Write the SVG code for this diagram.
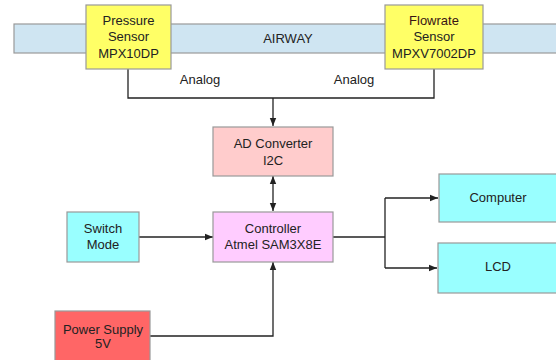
<svg xmlns="http://www.w3.org/2000/svg" width="556" height="360" viewBox="0 0 556 360">
<style>
.box{stroke:#999;stroke-width:1.2}
text{font-family:"Liberation Sans",Arial,sans-serif;font-size:13px;fill:#222;text-anchor:middle}
.ln{fill:none;stroke:#222;stroke-width:1.3}
</style>
<defs>
<marker id="ah" viewBox="0 0 10 10" refX="10" refY="5" markerWidth="8" markerHeight="8" markerUnits="userSpaceOnUse" orient="auto-start-reverse">
<path d="M0,1 L10,5 L0,9 Z" fill="#222"/>
</marker>
</defs>
<rect width="556" height="360" fill="#fff"/>
<g id="airway">
<rect class="box" x="14" y="24" width="548" height="29" fill="#cfe5f2"/>
<text x="288" y="43">AIRWAY</text>
</g>
<g id="connectors">
<path class="ln" d="M128,69 V98 H434 V69"/>
<path class="ln" d="M273,98 V126" marker-end="url(#ah)"/>
<text x="200" y="84">Analog</text>
<text x="354" y="84">Analog</text>
<path class="ln" d="M273,176 V211" marker-start="url(#ah)" marker-end="url(#ah)"/>
<path class="ln" d="M139,237 H213" marker-end="url(#ah)"/>
<path class="ln" d="M333,237 H385"/>
<path class="ln" d="M385,198 V268"/>
<path class="ln" d="M385,198 H438" marker-end="url(#ah)"/>
<path class="ln" d="M385,268 H437" marker-end="url(#ah)"/>
<path class="ln" d="M150,336 H273 V262" marker-end="url(#ah)"/>
</g>
<g id="pressure">
<rect class="box" x="86" y="5" width="85" height="64" fill="#ffff66"/>
<text x="128.5" y="25">Pressure</text>
<text x="128.5" y="41">Sensor</text>
<text x="128.5" y="58">MPX10DP</text>
</g>
<g id="flowrate">
<rect class="box" x="385" y="5" width="98" height="64" fill="#ffff66"/>
<text x="434" y="25" fill="#3a1414" style="fill:#3a1414">Flowrate</text>
<text x="434" y="41">Sensor</text>
<text x="434" y="58">MPXV7002DP</text>
</g>
<g id="adc">
<rect class="box" x="213" y="127" width="120" height="49" fill="#ffcccc"/>
<text x="273" y="148">AD Converter</text>
<text x="273" y="164.5">I2C</text>
</g>
<g id="controller">
<rect class="box" x="213" y="212" width="120" height="50" fill="#ffccff"/>
<text x="273" y="233">Controller</text>
<text x="273" y="249">Atmel SAM3X8E</text>
</g>
<g id="switch">
<rect class="box" x="67" y="212" width="72" height="50" fill="#99ffff"/>
<text x="103" y="233">Switch</text>
<text x="103" y="249">Mode</text>
</g>
<g id="computer">
<rect class="box" x="439" y="174" width="121" height="48" fill="#99ffff"/>
<text x="498" y="202">Computer</text>
</g>
<g id="lcd">
<rect class="box" x="438" y="243" width="122" height="50" fill="#99ffff"/>
<text x="498" y="271">LCD</text>
</g>
<g id="power">
<rect class="box" x="55" y="311" width="95" height="55" fill="#ff6666"/>
<text x="103" y="333.5">Power Supply</text>
<text x="103" y="347.5">5V</text>
</g>
</svg>
